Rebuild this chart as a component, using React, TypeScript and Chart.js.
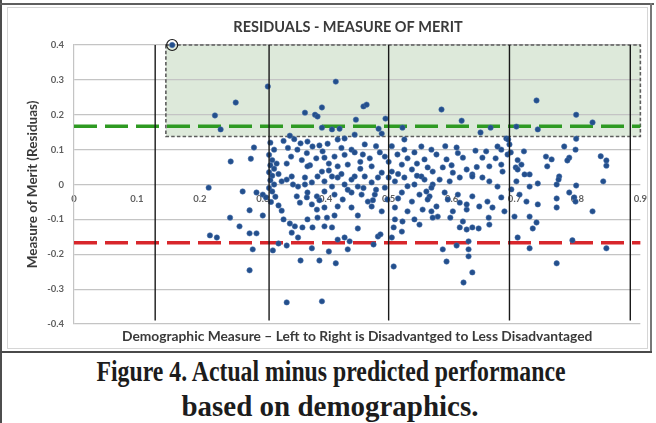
import React, { useEffect, useLayoutEffect, useRef } from "react";
import { Chart, registerables } from "chart.js";

Chart.register(...registerables);

// ---------- data ----------
const chartTitle = "RESIDUALS - MEASURE OF MERIT";
const xAxisTitle = "Demographic Measure \u2013 Left to Right is Disadvantged to Less Disadvantaged";
const yAxisTitle = "Measure of Merit (Residuas)";
const captionLines = ["Figure 4. Actual minus predicted performance", "based on demographics."];

const xTickValues = [0, 0.1, 0.2, 0.3, 0.4, 0.5, 0.6, 0.7, 0.8, 0.9];
const xTickLabels = ["0", "0.1", "0.2", "0.3", "0.4", "0.5", "0.6", "0.7", "0.8", "0.9"];
const yTickValues = [-0.4, -0.3, -0.2, -0.1, 0, 0.1, 0.2, 0.3, 0.4];
const yTickLabels = ["-0.4", "-0.3", "-0.2", "-0.1", "0", "0.1", "0.2", "0.3", "0.4"];

const upperThreshold = 0.167;
const lowerThreshold = -0.167;
const segmentDividers = [0.129, 0.31, 0.5, 0.692, 0.884];
const dividerTop = 0.4;
const dividerBottom = -0.39;
const highlightX = [0.146, 0.9];
const highlightY = [0.1375, 0.4];
const circledPoint = [0.156, 0.4];

const outlierPoints: number[][] = [
  [0.156, 0.4], [0.224, 0.198], [0.233, 0.158], [0.257, 0.235], [0.308, 0.281], [0.367, 0.206],
  [0.286, 0.106], [0.281, 0.074], [0.249, 0.066], [0.214, -0.009], [0.268, -0.02], [0.29, -0.023],
  [0.3, -0.029], [0.305, -0.037], [0.216, -0.146], [0.227, -0.152], [0.279, -0.14], [0.29, -0.14],
  [0.263, -0.12], [0.248, -0.095], [0.3, -0.089], [0.279, -0.074], [0.284, -0.186], [0.279, -0.246],
  [0.316, -0.189], [0.338, -0.175], [0.325, -0.169], [0.36, -0.218], [0.338, -0.338], [0.394, -0.335],
  [0.416, -0.226], [0.39, -0.218], [0.508, -0.235], [0.405, -0.192], [0.378, -0.183], [0.435, -0.186],
  [0.476, -0.172], [0.505, -0.152], [0.592, -0.221], [0.608, -0.175], [0.586, -0.186], [0.627, -0.186],
  [0.627, -0.206], [0.633, -0.252], [0.619, -0.281], [0.627, -0.163], [0.705, -0.152], [0.724, -0.183],
  [0.767, -0.226], [0.792, -0.16], [0.846, -0.183], [0.824, -0.077],
];

const upperRightPoints: number[][] = [
  [0.416, 0.295], [0.394, 0.221], [0.46, 0.224], [0.465, 0.229], [0.383, 0.2], [0.387, 0.195],
  [0.448, 0.186], [0.495, 0.189], [0.394, 0.163], [0.41, 0.158], [0.422, 0.16], [0.484, 0.16],
  [0.522, 0.163], [0.446, 0.143], [0.489, 0.146], [0.584, 0.215], [0.616, 0.183], [0.662, 0.163],
  [0.646, 0.149], [0.735, 0.241], [0.703, 0.166], [0.737, 0.158], [0.687, 0.132], [0.673, 0.109],
  [0.679, 0.1], [0.608, 0.106], [0.638, 0.097], [0.75, 0.08], [0.759, 0.072], [0.798, 0.2],
  [0.824, 0.178], [0.798, 0.131], [0.797, 0.1], [0.779, 0.109], [0.787, 0.077], [0.784, 0.069],
  [0.837, 0.081], [0.846, 0.069], [0.846, 0.054], [0.771, 0.023], [0.767, 0.0], [0.841, 0.009],
  [0.798, -0.003], [0.787, -0.023], [0.795, -0.037], [0.797, -0.049], [0.767, -0.04], [0.767, -0.066],
];

const leftClusterPoints: number[][] = [
  [0.312, 0.12], [0.318, 0.1], [0.31, 0.085], [0.315, 0.07], [0.312, 0.055], [0.318, 0.045],
  [0.31, 0.035], [0.315, 0.025], [0.312, 0.012], [0.318, 0.0], [0.31, -0.01], [0.315, -0.02],
  [0.32, -0.035], [0.313, -0.05], [0.325, -0.06], [0.33, -0.075], [0.322, 0.06], [0.325, 0.03],
  [0.343, 0.14], [0.333, 0.125], [0.35, 0.13], [0.36, 0.118], [0.34, 0.105], [0.355, 0.1],
  [0.37, 0.09], [0.345, 0.08], [0.362, 0.07], [0.338, 0.06], [0.375, 0.055],
  [0.333, -0.1], [0.343, -0.112], [0.351, -0.12], [0.346, -0.138], [0.356, -0.152], [0.363, -0.123],
  [0.371, -0.1], [0.354, -0.034], [0.359, -0.052], [0.37, -0.037], [0.33, 0.009], [0.338, 0.014],
  [0.348, 0.0], [0.367, 0.0], [0.346, 0.023], [0.356, -0.006],
];

const centerUpperPoints: number[][] = [
  [0.371, 0.123], [0.379, 0.109], [0.39, 0.112], [0.403, 0.117], [0.419, 0.129], [0.43, 0.132],
  [0.441, 0.1], [0.446, 0.092], [0.459, 0.086], [0.462, 0.115], [0.486, 0.092], [0.494, 0.08],
  [0.398, 0.077], [0.414, 0.08], [0.371, 0.052], [0.394, 0.037], [0.419, 0.052], [0.435, 0.057],
  [0.473, 0.052], [0.489, 0.034], [0.505, 0.037], [0.514, 0.086], [0.525, 0.1], [0.541, 0.092],
  [0.557, 0.072], [0.521, 0.057], [0.537, 0.043], [0.552, 0.023], [0.562, 0.049], [0.525, 0.129],
  [0.552, 0.109], [0.446, 0.023], [0.41, 0.023], [0.395, 0.095], [0.425, 0.105], [0.455, 0.065],
  [0.48, 0.11], [0.5, 0.065], [0.53, 0.075], [0.545, 0.06], [0.505, 0.11], [0.47, 0.075],
  [0.43, 0.085], [0.405, 0.06], [0.385, 0.075], [0.455, 0.045], [0.515, 0.03], [0.545, 0.025],
  [0.425, 0.03], [0.405, 0.04],
];

const rightUpperPoints: number[][] = [
  [0.568, 0.1], [0.576, 0.086], [0.592, 0.072], [0.586, 0.049], [0.602, 0.034], [0.618, 0.077],
  [0.624, 0.043], [0.633, 0.029], [0.649, 0.077], [0.66, 0.052], [0.679, 0.057], [0.681, 0.037],
  [0.689, 0.086], [0.702, 0.049], [0.711, 0.057], [0.724, 0.029], [0.692, 0.115], [0.57, 0.037],
  [0.69, 0.129], [0.694, 0.092], [0.705, 0.043], [0.716, 0.029], [0.752, 0.052], [0.77, 0.014],
  [0.6, 0.055], [0.64, 0.05], [0.61, 0.09], [0.655, 0.095], [0.59, 0.11], [0.67, 0.075],
  [0.705, 0.07], [0.715, 0.095],
];

const rightLowerPoints: number[][] = [
  [0.57, 0.0], [0.581, 0.014], [0.597, 0.009], [0.613, 0.02], [0.633, 0.023], [0.649, 0.02],
  [0.66, 0.009], [0.673, -0.006], [0.565, -0.034], [0.589, -0.023], [0.594, -0.043], [0.61, -0.029],
  [0.613, -0.052], [0.633, -0.034], [0.644, -0.063], [0.657, -0.049], [0.679, -0.037], [0.684, -0.077],
  [0.695, -0.014], [0.719, -0.049], [0.737, -0.057], [0.724, -0.006], [0.568, -0.077], [0.578, -0.092],
  [0.598, -0.095], [0.618, -0.106], [0.613, -0.123], [0.624, -0.129], [0.633, -0.123], [0.643, -0.126],
  [0.66, -0.115], [0.659, -0.095], [0.624, -0.072], [0.7, -0.092], [0.724, -0.092], [0.729, -0.126],
  [0.735, -0.109], [0.708, -0.029], [0.703, 0.009], [0.737, 0.003], [0.576, -0.063], [0.602, -0.077],
  [0.665, -0.066], [0.624, -0.057],
];

const centerLowerPoints: number[][] = [
  [0.367, 0.02], [0.378, 0.006], [0.387, 0.023], [0.398, 0.009], [0.41, -0.006], [0.419, 0.02],
  [0.43, 0.0], [0.441, 0.014], [0.451, -0.006], [0.462, 0.023], [0.473, 0.006], [0.483, 0.02],
  [0.494, -0.009], [0.51, 0.009], [0.525, 0.02], [0.541, 0.0], [0.557, 0.014], [0.568, -0.009],
  [0.371, -0.023], [0.386, -0.034], [0.398, -0.02], [0.414, -0.029], [0.427, -0.043], [0.441, -0.023],
  [0.457, -0.029], [0.467, -0.049], [0.478, -0.029], [0.498, -0.043], [0.521, -0.023], [0.537, -0.049],
  [0.549, -0.029], [0.562, -0.043], [0.378, -0.057], [0.398, -0.066], [0.419, -0.063], [0.441, -0.066],
  [0.473, -0.063], [0.489, -0.077], [0.51, -0.066], [0.53, -0.077], [0.554, -0.072], [0.387, -0.095],
  [0.402, -0.095], [0.414, -0.089], [0.451, -0.089], [0.386, -0.072], [0.51, -0.1], [0.522, -0.106],
  [0.541, -0.1], [0.549, -0.115], [0.57, -0.095], [0.379, -0.123], [0.398, -0.12], [0.41, -0.123],
  [0.451, -0.126], [0.508, -0.123], [0.521, -0.135], [0.419, -0.158], [0.43, -0.152], [0.438, -0.163],
  [0.483, -0.149], [0.487, -0.143], [0.5, 0.02], [0.515, -0.04], [0.46, -0.01], [0.435, -0.015],
  [0.48, -0.015], [0.53, -0.005], [0.56, -0.02], [0.475, -0.045], [0.39, -0.045],
];

const allPoints = [
  ...outlierPoints, ...upperRightPoints, ...leftClusterPoints, ...centerUpperPoints,
  ...rightUpperPoints, ...rightLowerPoints, ...centerLowerPoints,
];

// ---------- chart ----------
const FONT = "Lato, 'Open Sans', sans-serif";

const overlayPlugin = {
  id: "overlay",
  beforeDraw(chart: any) {
    const { ctx, scales } = chart;
    const x = scales.x, y = scales.y;
    const l = x.getPixelForValue(highlightX[0]);
    const r = x.getPixelForValue(highlightX[1]);
    const t = y.getPixelForValue(highlightY[1]);
    const b = y.getPixelForValue(highlightY[0]);
    ctx.save();
    ctx.fillStyle = "#dde9da";
    ctx.fillRect(l, t, r - l, b - t);
    ctx.restore();
  },
  beforeDatasetsDraw(chart: any) {
    const { ctx, scales } = chart;
    const x = scales.x, y = scales.y;
    const l = x.getPixelForValue(highlightX[0]);
    const r = x.getPixelForValue(highlightX[1]);
    const t = y.getPixelForValue(highlightY[1]);
    const b = y.getPixelForValue(highlightY[0]);
    ctx.save();
    ctx.strokeStyle = "#5c5c5c";
    ctx.lineWidth = 1.6;
    ctx.setLineDash([3.5, 2.2]);
    ctx.strokeRect(l, t, r - l, b - t);
    ctx.restore();
  },
  afterDraw(chart: any) {
    const { ctx, chartArea } = chart;
    ctx.save();
    ctx.fillStyle = "#3a3a3a";
    ctx.textAlign = "center";
    ctx.textBaseline = "middle";
    ctx.font = `bold 14.5px ${FONT}`;
    ctx.fillText(chartTitle, chartArea.left + 274, chartArea.top - 18);
    ctx.font = `bold 13.8px ${FONT}`;
    ctx.fillText(xAxisTitle, (chartArea.left + chartArea.right) / 2, chartArea.bottom + 13);
    ctx.translate(chartArea.left - 41, (chartArea.top + chartArea.bottom) / 2);
    ctx.rotate(-Math.PI / 2);
    ctx.font = `bold 13.5px ${FONT}`;
    ctx.fillText(yAxisTitle, 0, 0);
    ctx.restore();
  },
};

function ResidualChart() {
  const canvasRef = useRef<HTMLCanvasElement>(null);
  useEffect(() => {
    const canvas = canvasRef.current;
    if (!canvas) return;
    const lineDs = (yv: number, color: string) => ({
      type: "line" as const,
      data: [{ x: xTickValues[0], y: yv }, { x: xTickValues[xTickValues.length - 1], y: yv }],
      borderColor: color,
      borderWidth: 3.6,
      borderDash: [23, 8],
      pointRadius: 0,
      fill: false,
      order: 2,
      clip: false as any,
    });
    const dividers = segmentDividers.map((d) => ({
      type: "line" as const,
      data: [{ x: d, y: dividerTop }, { x: d, y: dividerBottom }],
      borderColor: "#1a1a1a",
      borderWidth: 1.4,
      pointRadius: 0,
      fill: false,
      order: -1,
      clip: false as any,
    }));
    const chart = new Chart(canvas, {
      type: "scatter",
      data: {
        datasets: [
          {
            type: "scatter",
            data: allPoints.map(([x, y]) => ({ x, y })),
            backgroundColor: "#234f8c",
            borderColor: "rgba(70,110,170,0.55)",
            borderWidth: 1,
            pointRadius: 2.7,
            order: 1,
            clip: false as any,
          },
          {
            type: "scatter",
            data: [{ x: circledPoint[0], y: circledPoint[1] }],
            backgroundColor: "rgba(0,0,0,0)",
            borderColor: "#1a1a1a",
            borderWidth: 1.2,
            pointRadius: 5.5,
            order: 0,
            clip: false as any,
          },
          lineDs(upperThreshold, "#2e9a22"),
          lineDs(lowerThreshold, "#d8262b"),
          ...dividers,
        ] as any,
      },
      options: {
        responsive: false,
        animation: false,
        devicePixelRatio: 1,
        layout: { padding: { left: 0, top: 45, right: 15, bottom: 28 } },
        plugins: {
          legend: { display: false },
          tooltip: { enabled: false },
          title: { display: false },
        },
        scales: {
          x: {
            type: "linear",
            position: { y: 0 } as any,
            min: 0,
            max: 0.9,
            afterBuildTicks: (s: any) => {
              s.ticks = xTickValues.map((v) => ({ value: v }));
            },
            ticks: {
              callback: (_v: any, i: number) => xTickLabels[i],
              font: { family: FONT, size: 9.5, weight: "bold" },
              color: "#5f5f5f",
              padding: 9,
              maxRotation: 0,
              autoSkip: false,
            },
            grid: { display: false, drawTicks: false },
            border: { display: false },
          },
          y: {
            type: "linear",
            min: -0.4,
            max: 0.4,
            afterBuildTicks: (s: any) => {
              s.ticks = yTickValues.map((v) => ({ value: v }));
            },
            afterFit: (s: any) => {
              s.width = 74;
            },
            ticks: {
              callback: (_v: any, i: number) => yTickLabels[i],
              font: { family: FONT, size: 9.5, weight: "bold" },
              color: "#5f5f5f",
              padding: 10,
              autoSkip: false,
            },
            grid: { color: "#c4c4c4", lineWidth: 1.2, drawTicks: false },
            border: { display: true, color: "#c4c4c4", width: 1.2 },
          },
        },
      },
      plugins: [overlayPlugin],
    } as any);
    return () => chart.destroy();
  }, []);
  return (
    <canvas
      ref={canvasRef}
      width={656}
      height={352}
      style={{ position: "absolute", left: 0, top: 0, width: 656, height: 352 }}
    />
  );
}

export default function App() {
  const line1 = useRef<HTMLSpanElement>(null);
  const line2 = useRef<HTMLSpanElement>(null);

  useLayoutEffect(() => {
    document.body.style.margin = "0";
    const fit = (el: HTMLSpanElement | null, w: number) => {
      if (!el) return;
      el.style.transform = "translateX(-50%)";
      const nat = el.getBoundingClientRect().width;
      el.style.transform = `translateX(-50%) scaleX(${w / nat})`;
    };
    fit(line1.current, 469);
    fit(line2.current, 297);
  }, []);

  const captionStyle: React.CSSProperties = {
    position: "absolute",
    whiteSpace: "nowrap",
    fontFamily: "'Liberation Serif', 'Times New Roman', serif",
    fontWeight: "bold",
    fontSize: 30,
    lineHeight: "30px",
    color: "#1c1c1c",
    transformOrigin: "center center",
  };

  return (
    <div style={{ position: "relative", width: 656, height: 423, background: "#ffffff", overflow: "hidden" }}>
      {/* frame */}
      <div style={{ position: "absolute", left: 0, top: 0, width: 2, height: 423, background: "#4d4d4d" }} />
      <div style={{ position: "absolute", left: 0, top: 3, width: 654, height: 2, background: "#5e5e5e" }} />
      <div style={{ position: "absolute", left: 650, top: 3, width: 2, height: 350, background: "#777777" }} />
      <div style={{ position: "absolute", left: 0, top: 351, width: 652, height: 2, background: "#4a4a4a" }} />
      <div style={{ position: "absolute", left: 7, top: 7, width: 639, height: 340, border: "1px solid #d6d6d6" }} />
      <ResidualChart />
      <span ref={line1} style={{ ...captionStyle, left: 331, top: 356 }}>{captionLines[0]}</span>
      <span ref={line2} style={{ ...captionStyle, left: 330, top: 391 }}>{captionLines[1]}</span>
    </div>
  );
}
